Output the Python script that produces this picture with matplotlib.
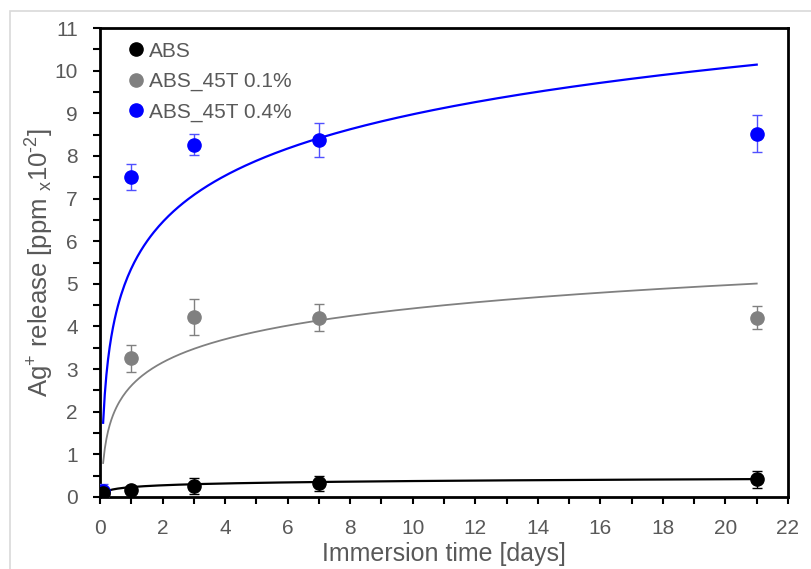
import numpy as np
import matplotlib
matplotlib.use("Agg")
import matplotlib.pyplot as plt
from matplotlib.patches import Rectangle
from matplotlib.ticker import MultipleLocator

plt.rcParams['font.family'] = ['Liberation Sans', 'DejaVu Sans']
plt.rcParams['mathtext.fontset'] = 'custom'
plt.rcParams['mathtext.rm'] = 'Liberation Sans'
plt.rcParams['mathtext.it'] = 'Liberation Sans'
plt.rcParams['mathtext.default'] = 'rm'

# immersion time [days]
days = [0.1, 1, 3, 7, 21]

# Ag+ release [ppm x10^-2] and error bars
abs_vals = [0.09, 0.16, 0.26, 0.32, 0.42]
abs_err = [0.05, 0.08, 0.18, 0.17, 0.20]
t01_vals = [0.10, 3.25, 4.22, 4.21, 4.21]
t01_err = [0.05, 0.32, 0.42, 0.32, 0.26]
t04_vals = [0.14, 7.50, 8.26, 8.37, 8.52]
t04_err = [0.17, 0.31, 0.25, 0.40, 0.43]

# logarithmic trend lines y = a + b*ln(t)
fit_abs = (0.232, 0.0617)
fit_t01 = (2.61, 0.787)
fit_t04 = (5.358, 1.571)

labels = ['ABS', 'ABS_45T 0.1%', 'ABS_45T 0.4%']
colors = ['black', '#808080', '#0000ff']
err_colors = ['black', '#808080', '#5050ff']

fig = plt.figure(figsize=(8.12, 5.69), dpi=100)
# light frame of the exported figure (only left and top edges visible)
fig.patches.append(Rectangle((10 / 812, -0.1), 1.2, 1.1 - 11 / 569,
                             transform=fig.transFigure, fill=False,
                             edgecolor='#d9d9d9', linewidth=1.2, zorder=0))
ax = fig.add_axes([100 / 812, 1 - 497 / 569, 688 / 812, 469 / 569])

t = np.linspace(days[0], days[-1], 400)
for fit, c, lw in zip([fit_abs, fit_t01, fit_t04], colors, [1.6, 1.3, 1.6]):
    ax.plot(t, fit[0] + fit[1] * np.log(t), color=c, lw=lw, zorder=2)

series = [(abs_vals, abs_err), (t01_vals, t01_err), (t04_vals, t04_err)]
for i in [1, 2, 0]:
    vals, err = series[i]
    ax.errorbar(days, vals, yerr=err, fmt='none', ecolor=err_colors[i],
                elinewidth=1.0, capsize=3.5, capthick=1.0, zorder=3)
    ax.plot(days, vals, 'o', color=colors[i], markersize=9.5, zorder=4)

handles = [plt.Line2D([], [], marker='o', ls='none', color=c, markersize=9.5)
           for c in colors]
leg = ax.legend(handles, labels, loc='upper left', frameon=False,
                fontsize=15, handletextpad=0.05, labelspacing=0.55,
                borderaxespad=0.25, bbox_to_anchor=(0.014, 1.0),
                handlelength=1.2)
for txt in leg.get_texts():
    txt.set_color('#595959')

ax.set_xlim(0, 22)
ax.set_ylim(0, 11)
ax.xaxis.set_major_locator(MultipleLocator(2))
ax.xaxis.set_minor_locator(MultipleLocator(1))
ax.yaxis.set_major_locator(MultipleLocator(1))
ax.yaxis.set_minor_locator(MultipleLocator(0.5))
ax.tick_params(which='both', direction='out', length=5, width=1.5,
               color='black')
ax.tick_params(which='major', labelsize=15, labelcolor='#595959', pad=11)

for sp in ax.spines.values():
    sp.set_linewidth(2)
    sp.set_color('black')

ax.set_xlabel('Immersion time [days]', fontsize=18, color='#595959',
              labelpad=3)
ax.set_ylabel('Ag$^{+}$ release [ppm $_{\\mathrm{x}}$10$^{\u20102}$]',
              fontsize=18.5, color='#595959', labelpad=-1)

fig.savefig('out.png', dpi=100)
